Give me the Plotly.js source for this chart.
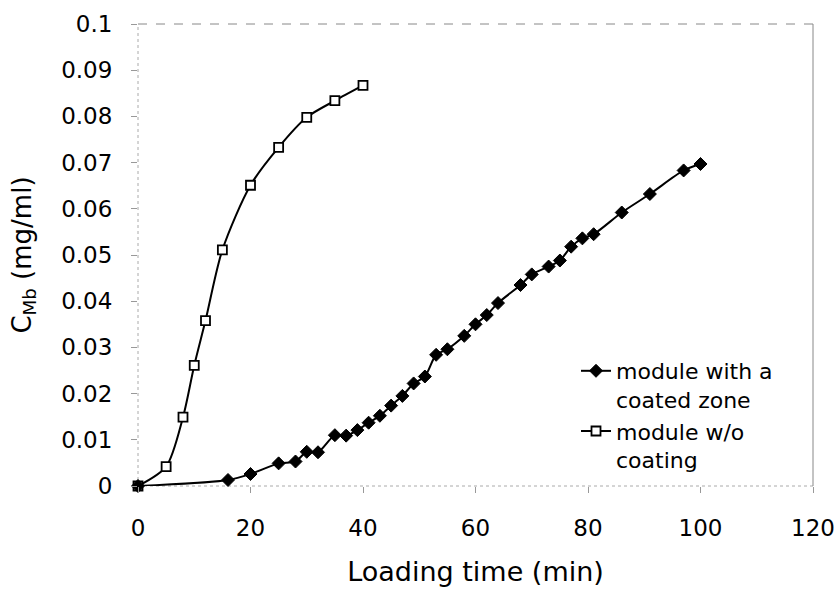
<!DOCTYPE html>
<html>
<head>
<meta charset="utf-8">
<script src="https://cdn.plot.ly/plotly-3.0.1.min.js"></script>
<style>html,body{margin:0;padding:0;background:#fff;}#chart{width:837px;height:590px;}</style>
</head>
<body>
<div id="chart"></div>
<script>
// Loading time (min) and C_Mb (mg/ml)
const coatedX = [0,16,20,25,28,30,32,35,37,39,41,43,45,47,49,51,53,55,58,60,62,64,68,70,73,75,77,79,81,86,91,97,100];
const coatedY = [0,0.0013,0.0026,0.0049,0.0053,0.0074,0.0073,0.0110,0.0109,0.0121,0.0137,0.0152,0.0174,0.0195,0.0222,0.0237,0.0284,0.0296,0.0325,0.0350,0.0370,0.0396,0.0435,0.0458,0.0475,0.0488,0.0518,0.0536,0.0545,0.0592,0.0632,0.0683,0.0697];
const uncoatedX = [0,5,8,10,12,15,20,25,30,35,40];
const uncoatedY = [0,0.0042,0.0149,0.0261,0.0358,0.0511,0.0651,0.0733,0.0798,0.0834,0.0867];
const seriesNames = ["module with a<br>coated zone", "module w/o<br>coating"];
const xTicks = [0,20,40,60,80,100,120];
const yTicks = [0,0.01,0.02,0.03,0.04,0.05,0.06,0.07,0.08,0.09,0.1];
const yTickText = ["0","0.01","0.02","0.03","0.04","0.05","0.06","0.07","0.08","0.09","0.1"];

const FONT = "DejaVu Sans, Verdana, sans-serif";

const traces = [
  {
    x: uncoatedX, y: uncoatedY, name: seriesNames[1],
    mode: "lines+markers", type: "scatter", cliponaxis: false,
    line: {color: "#000", width: 2, shape: "spline", smoothing: 0.8},
    marker: {symbol: "square", size: 9, color: "#fff", line: {color: "#000", width: 1.8}}
  },
  {
    x: coatedX, y: coatedY, name: seriesNames[0],
    mode: "lines+markers", type: "scatter", cliponaxis: false,
    line: {color: "#000", width: 2, shape: "spline", smoothing: 0.8},
    marker: {symbol: "diamond", size: 10, color: "#000", line: {color: "#000", width: 1}}
  }
];

const layout = {
  width: 837, height: 590,
  margin: {l: 138, r: 24, t: 24, b: 104},
  paper_bgcolor: "#fff", plot_bgcolor: "#fff",
  font: {family: FONT, color: "#000", size: 22},
  showlegend: true,
  legend: {
    x: (576 - 138) / 675, xanchor: "left",
    y: (486 - 350) / 462, yanchor: "top",
    bgcolor: "rgba(0,0,0,0)", borderwidth: 0,
    font: {family: FONT, size: 22, color: "#000"},
    valign: "top", tracegroupgap: 0, traceorder: "reversed"
  },
  xaxis: {
    range: [0, 120], tickvals: xTicks, ticktext: xTicks.map(String),
    showgrid: false, zeroline: false, showline: false,
    ticks: "outside", ticklen: 6, tickcolor: "#999", tickwidth: 1,
    ticklabelstandoff: 15,
    tickfont: {family: FONT, size: 23, color: "#000"},
    title: {text: "Loading time (min)", font: {family: FONT, size: 27, color: "#000"}, standoff: 22}
  },
  yaxis: {
    range: [0, 0.1], tickvals: yTicks, ticktext: yTickText,
    showgrid: false, zeroline: false, showline: false,
    ticks: "outside", ticklen: 6, tickcolor: "#999", tickwidth: 1,
    ticklabelstandoff: 14,
    tickfont: {family: FONT, size: 23, color: "#000"},
    title: {text: "C<sub>Mb</sub> (mg/ml)", font: {family: FONT, size: 26, color: "#000"}, standoff: 22}
  },
  shapes: [
    {type: "line", xref: "paper", yref: "paper", x0: 0, x1: 1, y0: 1, y1: 1, line: {color: "#888", width: 1, dash: "dash"}},
    {type: "line", xref: "paper", yref: "paper", x0: 1, x1: 1, y0: 0, y1: 1, line: {color: "#888", width: 1}},
    {type: "line", xref: "paper", yref: "paper", x0: 0, x1: 0, y0: 0, y1: 1, line: {color: "#aaa", width: 1, dash: "dot"}, layer: "below"},
    {type: "line", xref: "paper", yref: "paper", x0: 0, x1: 1, y0: 0, y1: 0, line: {color: "#aaa", width: 1, dash: "dot"}, layer: "below"}
  ]
};

Plotly.newPlot("chart", traces, layout, {displayModeBar: false, staticPlot: true});
</script>
</body>
</html>
